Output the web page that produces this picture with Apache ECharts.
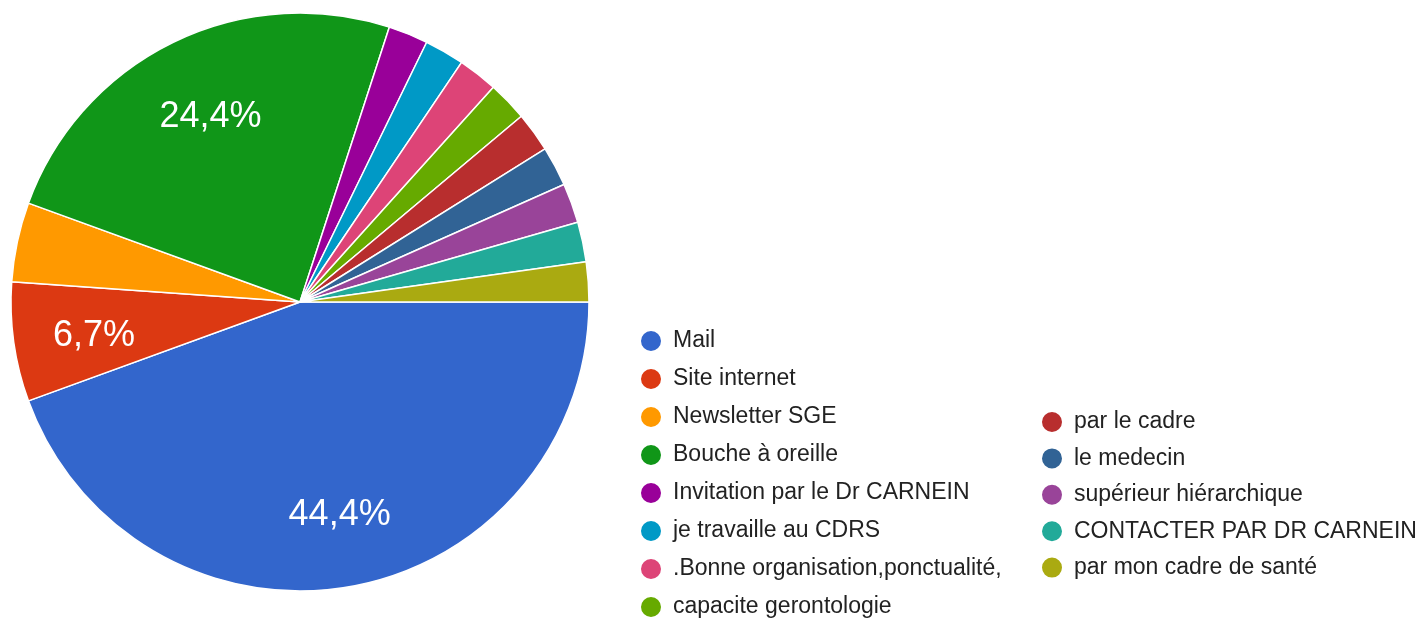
<!DOCTYPE html>
<html>
<head>
<meta charset="utf-8">
<script src="https://cdn.jsdelivr.net/npm/echarts@6/dist/echarts.min.js"></script>
<style>
  html, body { margin: 0; padding: 0; background: #fff; }
  #chart { width: 1426px; height: 619px; }
</style>
</head>
<body>
<div id="chart"></div>
<script>
const categories = [
  "Mail",
  "Site internet",
  "Newsletter SGE",
  "Bouche à oreille",
  "Invitation par le Dr CARNEIN",
  "je travaille au CDRS",
  ".Bonne organisation,ponctualité,",
  "capacite gerontologie",
  "par le cadre",
  "le medecin",
  "supérieur hiérarchique",
  "CONTACTER PAR DR CARNEIN",
  "par mon cadre de santé",
];
const counts = [20, 3, 2, 11, 1, 1, 1, 1, 1, 1, 1, 1, 1];
const colors = [
  "#3366cc", "#dc3912", "#ff9900", "#109618", "#990099", "#0099c6",
  "#dd4477", "#66aa00", "#b82e2e", "#316395", "#994499", "#22aa99", "#aaaa11",
];

const total = counts.reduce((a, b) => a + b, 0);
const pieData = categories.map((name, i) => ({
  name: name,
  value: counts[i],
  itemStyle: { color: colors[i] },
}));

const chart = echarts.init(document.getElementById("chart"));

const legendText = {
  fontFamily: "'Liberation Sans', Arial, sans-serif",
  fontSize: 23,
  color: "#222",
  lineHeight: 24,
  padding: [0, 0, 0, 6],
};

chart.setOption({
  animation: false,
  color: colors,
  legend: [
    {
      orient: "vertical",
      left: 634,
      top: 324,
      height: 300,
      icon: "circle",
      itemWidth: 22,
      itemHeight: 22,
      itemGap: 14,
      textStyle: legendText,
      data: categories.slice(0, 8),
    },
    {
      orient: "vertical",
      left: 1035,
      top: 405,
      height: 220,
      icon: "circle",
      itemWidth: 22,
      itemHeight: 22,
      itemGap: 12.4,
      textStyle: legendText,
      data: categories.slice(8),
    },
  ],
  series: [
    {
      type: "pie",
      center: [300, 302],
      radius: 289,
      startAngle: 0,
      clockwise: true,
      avoidLabelOverlap: false,
      label: { show: false },
      labelLine: { show: false },
      itemStyle: { borderColor: "#fff", borderWidth: 1.5 },
      emphasis: { disabled: true },
      data: pieData,
    },
    {
      // invisible copy, only used to put the percent labels further out than mid radius
      type: "pie",
      center: [303, 307],
      radius: [127, 289],
      startAngle: 0,
      clockwise: true,
      silent: true,
      avoidLabelOverlap: false,
      itemStyle: { color: "rgba(0,0,0,0)" },
      emphasis: { disabled: true },
      labelLine: { show: false },
      label: {
        show: true,
        position: "inside",
        color: "#fff",
        fontFamily: "'Liberation Sans', Arial, sans-serif",
        fontSize: 36,
        formatter: (p) => {
          const pct = (p.value / total) * 100;
          if (pct < 5) return "";
          return pct.toFixed(1).replace(".", ",") + "%";
        },
      },
      data: categories.map((name, i) => ({ name: name, value: counts[i] })),
    },
  ],
});
</script>
</body>
</html>
